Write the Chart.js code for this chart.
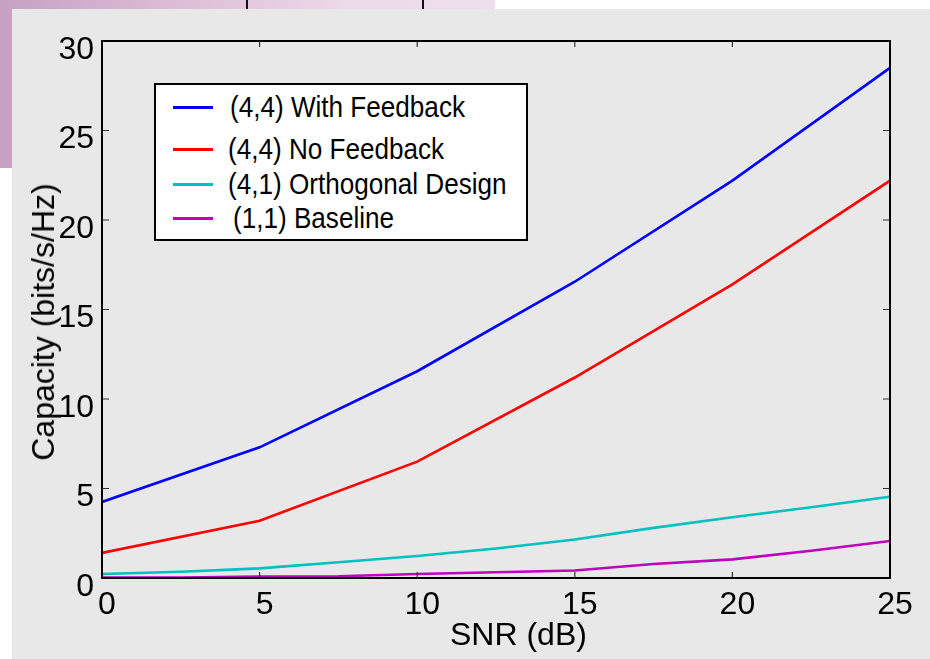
<!DOCTYPE html>
<html>
<head>
<meta charset="utf-8">
<script src="https://cdn.jsdelivr.net/npm/chart.js@4/dist/chart.umd.min.js"></script>
<style>
  html, body { margin: 0; padding: 0; background: #ffffff; }
  #stage { position: relative; width: 930px; height: 659px; overflow: hidden; font-family: "Liberation Sans", Arial, sans-serif; }
  #slide { position: absolute; left: 0; top: 0; width: 495px; height: 168px;
    background: linear-gradient(90deg, #c8a0c2 0%, #dcbcd6 35%, #ecd9ea 70%, #efdfed 100%); }
  .rule { position: absolute; top: 0; width: 2px; height: 10px; background: #111; }
  #panel { position: absolute; left: 12px; top: 9px; right: 0; bottom: 0; background: #e8e8e8; }
  #chartWrap { position: absolute; left: 0; top: 0; width: 930px; height: 659px; }
  .axisTitle { position: absolute; font-size: 32px; color: #000; white-space: nowrap; line-height: 1; }
  #legend { position: absolute; left: 154px; top: 83px; width: 370px; height: 154px;
    background: #fff; border: 2px solid #000; }
  .legLine { position: absolute; left: 17px; width: 40px; height: 3px; }
  .legText { position: absolute; font-size: 29px; white-space: nowrap; line-height: 1;
    transform-origin: left center; transform: translateY(-50%) scaleX(0.9); }
</style>
</head>
<body>
<div id="stage">
  <div id="slide"></div>
  <div class="rule" style="left:246px"></div>
  <div class="rule" style="left:422px"></div>
  <div id="panel"></div>
  <div id="chartWrap"><canvas id="capChart" width="930" height="659"></canvas></div>
  <div class="axisTitle" id="xTitle" style="left:450px; top:618px;">SNR (dB)</div>
  <div class="axisTitle" id="yTitle" style="left:43px; top:322px; transform: translate(-50%, -50%) rotate(-90deg);">Capacity (bits/s/Hz)</div>
  <div id="legend"></div>
</div>
<script>
const snrCoarse = [0, 5, 10, 15, 20, 25];
const snrFine = [0, 2.5, 5, 7.5, 10, 12.5, 15, 17.5, 20, 22.5, 25];

const withFeedback = [4.25, 7.3, 11.55, 16.55, 22.2, 28.5];
const noFeedback = [1.4, 3.2, 6.5, 11.2, 16.4, 22.2];
const orthogonal = [0.22, 0.35, 0.54, 0.88, 1.23, 1.65, 2.15, 2.8, 3.39, 3.95, 4.54];
const baseline = [0.02, 0.03, 0.08, 0.1, 0.22, 0.32, 0.42, 0.78, 1.04, 1.52, 2.07];

const seriesLabels = [
  "(4,4) With Feedback",
  "(4,4) No Feedback",
  "(4,1) Orthogonal Design",
  "(1,1) Baseline",
];
const seriesColors = ["#0000ff", "#ff0000", "#00c0c0", "#c000c0"];

const xTicks = [0, 5, 10, 15, 20, 25];
const yTicks = [0, 5, 10, 15, 20, 25, 30];

const toPoints = (xs, ys) => xs.map((x, i) => ({ x: x, y: ys[i] }));

const datasets = [
  toPoints(snrCoarse, withFeedback),
  toPoints(snrCoarse, noFeedback),
  toPoints(snrFine, orthogonal),
  toPoints(snrFine, baseline),
].map((data, i) => ({
  label: seriesLabels[i],
  data: data,
  borderColor: seriesColors[i],
  borderWidth: 2.6,
  pointRadius: 0,
  tension: 0,
  fill: false,
}));

// frame around the plot with short inward ticks on all four sides
const framePlugin = {
  id: "frame",
  afterDatasetsDraw(chart) {
    const { ctx, chartArea: a, scales } = chart;
    ctx.save();
    ctx.strokeStyle = "#333";
    ctx.lineWidth = 1.2;
    ctx.beginPath();
    scales.x.ticks.forEach((t) => {
      const px = scales.x.getPixelForValue(t.value);
      ctx.moveTo(px, a.bottom);
      ctx.lineTo(px, a.bottom - 6);
      ctx.moveTo(px, a.top);
      ctx.lineTo(px, a.top + 6);
    });
    scales.y.ticks.forEach((t) => {
      const py = scales.y.getPixelForValue(t.value);
      ctx.moveTo(a.left, py);
      ctx.lineTo(a.left + 7, py);
      ctx.moveTo(a.right, py);
      ctx.lineTo(a.right - 7, py);
    });
    ctx.stroke();
    ctx.strokeStyle = "#000";
    ctx.lineWidth = 2;
    ctx.strokeRect(a.left, a.top, a.right - a.left, a.bottom - a.top);
    ctx.restore();
  },
};

document.addEventListener("DOMContentLoaded", () => {
  const legend = document.getElementById("legend");
  const rowY = [22, 64, 99, 133];
  const textX = [74, 72, 72, 77];
  legend.innerHTML = seriesLabels
    .map(
      (label, i) => `
        <div class="legLine" style="top:${rowY[i] - 1}px; background:${seriesColors[i]}"></div>
        <div class="legText" style="left:${textX[i]}px; top:${rowY[i]}px">${label}</div>
      `
    )
    .join("");

  const ctx = document.getElementById("capChart").getContext("2d");
  new Chart(ctx, {
    type: "line",
    data: { datasets: datasets },
    plugins: [framePlugin],
    options: {
      responsive: false,
      animation: false,
      devicePixelRatio: 1,
      layout: { padding: { top: 41, right: 40, left: 0, bottom: 0 } },
      plugins: {
        legend: { display: false },
        tooltip: { enabled: false },
      },
      scales: {
        x: {
          type: "linear",
          min: 0,
          max: 25,
          afterFit: (scale) => { scale.height = 81; },
          afterBuildTicks: (scale) => { scale.ticks = xTicks.map((v) => ({ value: v })); },
          grid: { display: false, drawTicks: false },
          border: { display: false },
          ticks: {
            color: "#000",
            padding: 8,
            labelOffset: 5,
            maxRotation: 0,
            font: { family: "'Liberation Sans', Arial, sans-serif", size: 32 },
          },
        },
        y: {
          type: "linear",
          min: 0,
          max: 30,
          afterFit: (scale) => { scale.width = 102; },
          afterBuildTicks: (scale) => { scale.ticks = yTicks.map((v) => ({ value: v })); },
          grid: { display: false, drawTicks: false },
          border: { display: false },
          ticks: {
            color: "#000",
            padding: 8,
            labelOffset: 9,
            font: { family: "'Liberation Sans', Arial, sans-serif", size: 32 },
          },
        },
      },
    },
  });
});
</script>
</body>
</html>
